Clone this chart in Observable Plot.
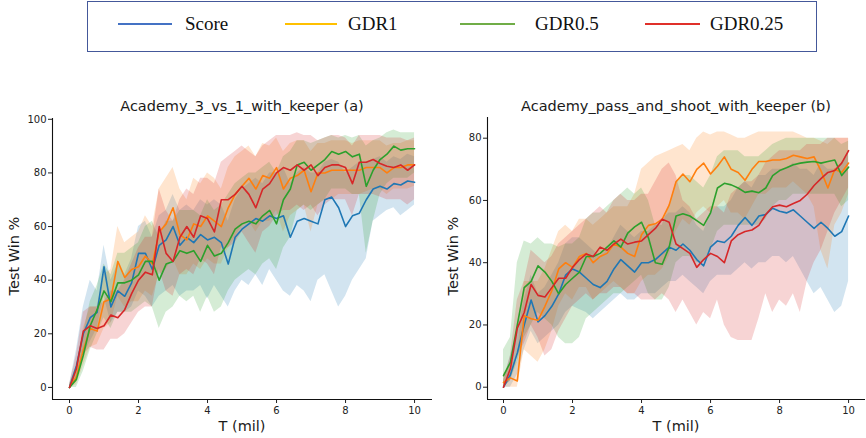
<!DOCTYPE html>
<html><head><meta charset="utf-8">
<script src="https://cdn.jsdelivr.net/npm/d3@7"></script>
<script src="https://cdn.jsdelivr.net/npm/@observablehq/plot@0.6"></script>
<style>
body{margin:0;background:#fff;}
#wrap{position:relative;width:866px;height:438px;overflow:hidden;font-family:"DejaVu Sans",sans-serif;background:#fff;}
.abs{position:absolute;}
.ctr{position:absolute;white-space:nowrap;line-height:1;transform:translate(-50%,-50%);color:#1a1a1a;}
.leg{position:absolute;font-family:"Liberation Serif","Times New Roman",serif;font-size:19px;line-height:1;color:#111;transform:translateY(-50%);}
.legline{position:absolute;height:0;border-top:2px solid;}
svg{position:absolute;top:0;}
</style></head><body><div id="wrap"></div>
<script>
const seriesNames = ["Score", "GDR1", "GDR0.5", "GDR0.25"];
const lineColors = ["#1f77b4", "#ff7f0e", "#2ca02c", "#d62728"];
const legendColors = ["#4472c4", "#ffc000", "#70ad47", "#e0302a"];
const T = [0,0.2,0.4,0.6,0.8,1,1.2,1.4,1.6,1.8,2,2.2,2.4,2.6,2.8,3,3.2,3.4,3.6,3.8,4,4.2,4.4,4.6,4.8,5,5.2,5.4,5.6,5.8,6,6.2,6.4,6.6,6.8,7,7.2,7.4,7.6,7.8,8,8.2,8.4,8.6,8.8,9,9.2,9.4,9.6,9.8,10];
const xTicks = [0,2,4,6,8,10];
const yTicksA = [0,20,40,60,80,100];
const yTicksB = [0,20,40,60,80];
const titleA = "Academy_3_vs_1_with_keeper (a)";
const titleB = "Academy_pass_and_shoot_with_keeper (b)";
const xLabel = "T (mil)";
const yLabel = "Test Win %";

// Panel (a)
const a_score_mean = [0,8,20,26,28,45,30,36,34,39,50,50,44,53,55,60,53,56,54,57,55,56,54,46,56,59,61,63,62,64,63,64,56,62,63,62,61,70,71,67,60,64,65,70,74,75,74,76,75.5,77,76.5];
const a_score_lo = [0,3,12,17,22,34,24,28,28,30,36,34,30,34,36,38,34,36,36,38,33,38,34,30,36,40,38,42,38,44,40,36,34,38,36,32,40,42,36,30,34,40,44,48,62,64,66,67,64,66,68];
const a_score_hi = [1,14,30,40,36,53,40,46,42,48,60,62,56,64,66,72,66,68,66,70,68,70,68,62,70,74,76,78,76,80,80,82,76,80,82,80,80,84,85,84,80,82,84,84,85,86,84,86,85,87,86];
const a_gdr1_mean = [0,4,14,22,21,32,33,47,41,44,45,49,46,58,61,67,57,55,61,60,64,62,60,67,72,75,78,74,79,78,82,74,78,79,81,73,80,80,81,81,81,81,81,82,82,82,80,82,82,83,83];
const a_gdr1_lo = [0,1,8,15,16,22,24,34,30,32,32,36,34,42,44,48,42,42,46,44,48,46,46,52,56,60,62,58,62,62,66,58,64,66,68,58,68,70,70,72,72,72,72,73,74,74,72,74,74,74,75];
const a_gdr1_hi = [1,8,22,30,30,42,44,60,54,56,58,64,60,74,78,82,74,70,78,76,80,78,74,82,86,88,90,86,91,90,93,88,91,92,92,88,91,91,92,92,92,91,92,92,92,92,90,91,91,92,92];
const a_gdr05_mean = [0,3,12,23,29,36,32,39,39,40,42,47,47,40,46,47,51,50,51,47,53,49,50,54,59,61,62,61,64,66,61,70,74,83,84,81,83,85,88,87,88,86,87,75,81,85,87,90,88.5,89,89];
const a_gdr05_lo = [0,0,6,14,20,26,22,28,28,28,30,32,30,22,28,30,34,32,34,28,34,28,30,36,40,42,44,42,46,48,44,52,56,66,68,66,68,70,74,74,74,72,72,50,62,72,76,78,78,78,80];
const a_gdr05_hi = [1,8,20,32,38,46,42,50,50,52,54,60,62,56,62,62,66,66,66,64,70,66,68,72,76,78,80,80,82,84,80,86,88,92,92,91,92,93,94,93,94,93,94,90,92,93,95,96,95,95,95];
const a_gdr025_mean = [0,7,21,23,22,23,27,26,29,35,40,43,42,60,50,47,56,60,56,64,63,58,70,70,72,75,72,67,74,76,80,82,81,83,81,83,79,82,83,83,82,76,84,84,85,83.5,82.5,82,83,81,83];
const a_gdr025_lo = [0,2,12,15,14,14,18,18,20,24,28,30,30,44,36,34,42,44,42,48,46,42,52,52,54,58,54,50,58,60,64,66,66,68,66,68,64,68,70,70,70,64,72,72,72,71,70,70,70,68,70];
const a_gdr025_hi = [1,12,28,30,30,32,36,36,40,46,52,56,56,74,66,62,70,74,72,78,78,76,84,86,88,90,88,86,90,92,94,94,94,95,94,94,92,93,94,94,93,90,94,94,94,94,93,93,93,92,93];

// Panel (b)
const b_score_mean = [0,4,11,20,28,21,23,26,30,36,38,37,35,33,32,34,38,41,39,37,40,40,41,43,45,44,46,44,41,39,45,47,46.5,48.5,52,54.5,52,55,55.5,57.5,56.5,56,57,55,53,51,53,51,48.5,50,55];
const b_score_lo = [0,0,4,12,18,14,16,18,20,24,26,25,24,22,24,26,28,30,28,28,30,30,30,32,34,34,36,34,32,30,34,36,36,36,38,40,38,40,40,42,42,40,42,38,34,30,32,28,24,26,34];
const b_score_hi = [2,10,18,28,36,30,32,36,40,46,48,48,46,44,42,44,48,52,50,48,50,50,52,54,56,56,58,56,52,50,56,58,58,60,64,66,64,68,68,70,70,70,72,70,70,68,72,70,70,72,76];
const b_gdr1_mean = [1.5,3,2,23,22,21.5,26,31,38,40,38.5,42,43,40,42,43,46,45,43,42,49,52,52.5,54,58.5,66,68.5,66,70,72,68.5,71,74,70,69,66.5,70,72.5,72.5,73,73,73.5,74.5,74,73.5,74,69.5,64,70,69,72];
const b_gdr1_lo = [0,0,0,12,10,8,12,18,26,30,28,32,32,28,30,32,34,32,30,30,34,36,36,38,42,50,54,52,56,58,56,58,60,56,56,54,58,62,62,64,64,64,66,64,62,58,44,38,52,56,62];
const b_gdr1_hi = [4,8,8,34,34,34,38,44,50,52,50,54,54,52,54,56,58,58,58,62,70,72,74,75,76,77,78,76,80,82,81,82,82,81,80,80,81,82,82,82,82,82,82,81,80,80,79,78,80,80,80];
const b_gdr05_mean = [3.7,8,20,32,34,39,37,34,30,33,35,37,42,42,43,45,47,45,49.5,51.5,53,48,40,39.5,45,55,55.7,55,53.5,52,56,64,65.5,65,64,62.6,63,62.5,64,68,69.6,70.5,71.5,72,72.3,72.5,72,72.5,73,68,70.7];
const b_gdr05_lo = [0,2,8,16,20,24,22,20,16,14,14,16,22,24,26,28,30,30,32,34,36,30,28,28,32,40,42,42,40,40,44,50,52,52,52,52,52,52,54,58,60,60,62,62,62,62,62,62,62,58,60];
const b_gdr05_hi = [12,16,40,47,46,48,46,46,45,46,46,48,54,56,56,58,60,62,64,62,64,60,52,52,58,66,68,68,66,64,68,74,76,76,76,74,74,74,76,78,79,80,80,80,80,80,80,80,80,78,79];
const b_gdr025_mean = [0,6,19,24,33,29.5,29,32,35,35,38.5,41,42.8,42,45,44,46,47.6,46,46.6,47,49,51,54,53,46,44.5,43,38.5,41,43,42,40,47,49,50,50.5,52,55.5,58,58.5,58,59,60,62,64.8,67,69,69.6,72,76];
const b_gdr025_lo = [0,2,10,14,20,16,10,12,18,22,26,28,30,28,30,30,32,32,30,30,28,28,28,30,28,24,28,24,20,24,22,28,20,16,15,15,15,22,30,24,28,26,30,24,34,40,44,50,56,60,64];
const b_gdr025_hi = [2,10,28,34,44,42,40,42,46,48,50,52,54,56,58,56,60,62,60,60,62,62,66,70,72,68,60,58,54,56,58,58,56,62,64,66,66,68,72,74,76,76,76,76,78,78,78,80,80,80,80];

function table(sets) {
  const rows = [];
  sets.forEach(([name, mean, lo, hi]) => {
    T.forEach((t, i) => rows.push({t, series: name, mean: mean[i], lo: lo[i], hi: hi[i]}));
  });
  return rows;
}
const dataA = table([
  ["Score", a_score_mean, a_score_lo, a_score_hi],
  ["GDR1", a_gdr1_mean, a_gdr1_lo, a_gdr1_hi],
  ["GDR0.5", a_gdr05_mean, a_gdr05_lo, a_gdr05_hi],
  ["GDR0.25", a_gdr025_mean, a_gdr025_lo, a_gdr025_hi]
]);
const dataB = table([
  ["Score", b_score_mean, b_score_lo, b_score_hi],
  ["GDR1", b_gdr1_mean, b_gdr1_lo, b_gdr1_hi],
  ["GDR0.5", b_gdr05_mean, b_gdr05_lo, b_gdr05_hi],
  ["GDR0.25", b_gdr025_mean, b_gdr025_lo, b_gdr025_hi]
]);

function panel(data, {width, marginLeft, marginRight, marginTop, xDomain, yDomain, yTicks}) {
  return Plot.plot({
    width, height: 438, marginLeft, marginRight, marginTop, marginBottom: 39,
    style: {background: "transparent", fontFamily: "DejaVu Sans, sans-serif", fontSize: "10px", color: "#222", overflow: "visible"},
    x: {domain: xDomain, label: null},
    y: {domain: yDomain, label: null},
    color: {domain: seriesNames, range: lineColors},
    marks: [
      Plot.areaY(data, {x: "t", y1: "lo", y2: "hi", z: "series", fill: "series", fillOpacity: 0.2}),
      Plot.lineY(data, {x: "t", y: "mean", z: "series", stroke: "series", strokeWidth: 1.6}),
      Plot.axisX({ticks: xTicks, tickSize: 4, tickPadding: 3, fontSize: 10, label: null, tickFormat: d => String(d)}),
      Plot.axisY({ticks: yTicks, tickSize: 4, tickPadding: 2, fontSize: 10, label: null, tickFormat: d => String(d)}),
      Plot.ruleX([xDomain[0]], {stroke: "#111", strokeWidth: 1.1}),
      Plot.ruleY([yDomain[0]], {stroke: "#111", strokeWidth: 1.1})
    ]
  });
}

const wrap = document.getElementById("wrap");
const svgA = panel(dataA, {width: 440, marginLeft: 52, marginRight: 8, marginTop: 118, xDomain: [-0.493, 10.52], yDomain: [-4.5, 100.3], yTicks: yTicksA});
svgA.style.left = "0px";
wrap.appendChild(svgA);
const svgB = panel(dataB, {width: 431, marginLeft: 52, marginRight: 1, marginTop: 117, xDomain: [-0.464, 10.49], yDomain: [-3.95, 86.65], yTicks: yTicksB});
svgB.style.left = "435px";
wrap.appendChild(svgB);

function ctrText(txt, x, y, size, rot) {
  const d = document.createElement("div");
  d.className = "ctr";
  d.textContent = txt;
  d.style.left = x + "px"; d.style.top = y + "px";
  d.style.fontSize = size + "px";
  if (rot) d.style.transform = "translate(-50%,-50%) rotate(-90deg)";
  wrap.appendChild(d);
}
ctrText(titleA, 242, 106, 14.5);
ctrText(titleB, 676, 106, 14.5);
ctrText(xLabel, 242, 426, 14.5);
ctrText(xLabel, 676, 426, 14.5);
ctrText(yLabel, 14, 256, 14.5, true);
ctrText(yLabel, 453, 256, 14.5, true);

// Legend
const box = document.createElement("div");
box.className = "abs";
Object.assign(box.style, {left: "87px", top: "1px", width: "728px", height: "49px", border: "1.5px solid #44589a", zIndex: 5});
wrap.appendChild(box);
const legPos = [[118, 172, 185], [285, 337, 348], [460, 515, 535], [645, 700, 710]];
seriesNames.forEach((name, i) => {
  const [x1, x2, tx] = legPos[i];
  const l = document.createElement("div");
  l.className = "legline";
  Object.assign(l.style, {left: x1 + "px", width: (x2 - x1) + "px", top: "23px", borderTopColor: legendColors[i], zIndex: 6});
  wrap.appendChild(l);
  const t = document.createElement("div");
  t.className = "leg";
  t.textContent = name;
  Object.assign(t.style, {left: tx + "px", top: "23px", zIndex: 6});
  wrap.appendChild(t);
});
</script></body></html>
